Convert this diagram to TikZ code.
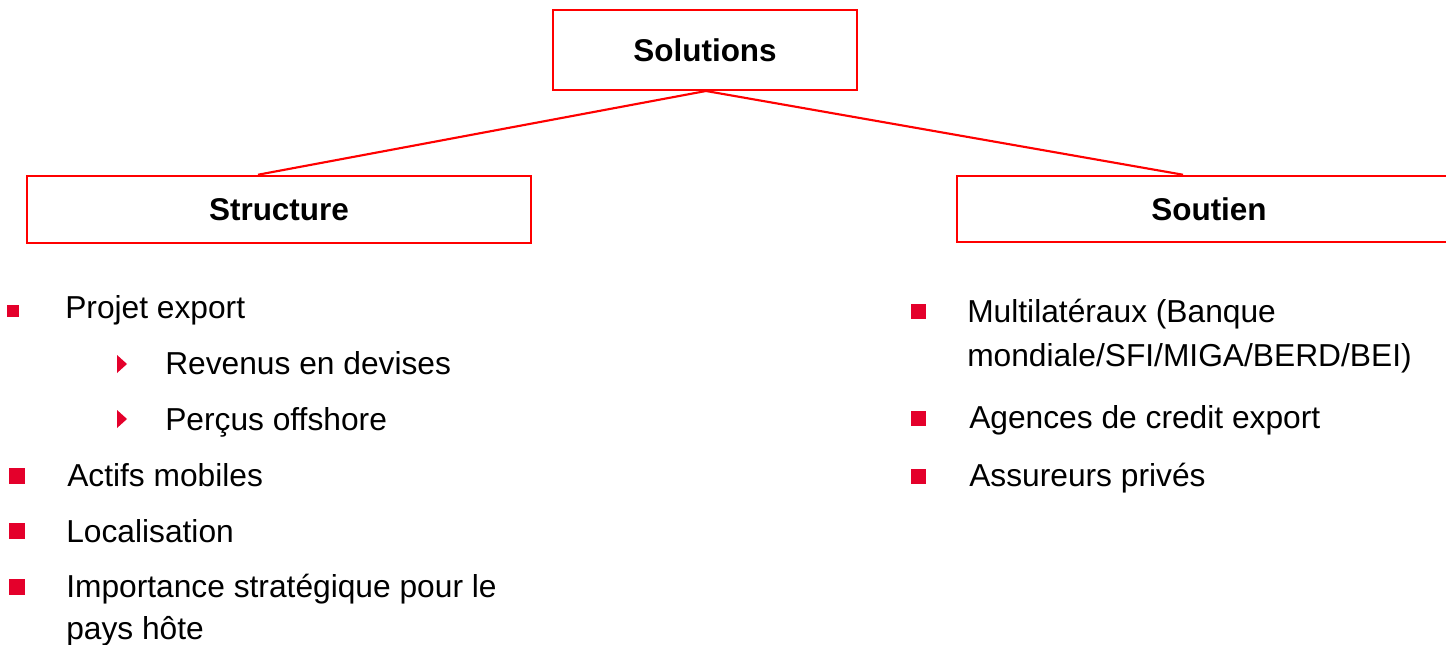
\documentclass[tikz,border=0pt]{standalone}
\usepackage{fontspec}
\setmainfont{Liberation Sans}
\definecolor{boxred}{HTML}{FF0000}
\definecolor{bulred}{HTML}{E4002B}
\tikzset{
  titlebox/.style={draw=boxred, line width=1.9pt, fill=white, inner sep=0pt,
    font=\fontsize{23.6}{28}\selectfont\bfseries, text=black},
  link/.style={draw=boxred, line width=1.6pt},
  itemtext/.style={anchor=base west, inner sep=0pt, font=\fontsize{23.8}{28}\selectfont, text=black},
  sqbullet/.style={fill=bulred, inner sep=0pt, minimum size=#1*0.75pt},
  tribullet/.style={fill=bulred, draw=none}
}
\begin{document}
\begin{tikzpicture}[x=0.75pt,y=-0.75pt]
\clip (0,0) rectangle (1446,645);
\fill[white] (0,0) rectangle (1446,645);

% connectors
\coordinate (apex) at (706,91);
\node[titlebox, minimum width=378pt, minimum height=50.25pt] (str) at (279,209.5) {Structure};
\node[titlebox, minimum width=378pt, minimum height=49.5pt] (sou) at (1209,209) {Soutien};
\draw[link] (apex) -- ([xshift=-15.75pt]str.north);
\draw[link] (apex) -- ([xshift=-19.5pt]sou.north);

% title box
\node[titlebox, minimum width=228pt, minimum height=60pt] (sol) at (705,50) {Solutions};

% left list
\node[sqbullet=12] (b1) at (13,311.5) {};
\node[itemtext] (t1) at (65,319) {Projet export};
\fill[tribullet] (117,355) -- (127,364) -- (117,373) -- cycle;
\node[itemtext] (t1a) at (165,374) {Revenus en devises};
\fill[tribullet] (117,410) -- (127,419) -- (117,428) -- cycle;
\node[itemtext] (t1b) at (165,430) {Perçus offshore};
\node[sqbullet=16] (b2) at (16.5,475.5) {};
\node[itemtext] (t2) at (67,486) {Actifs mobiles};
\node[sqbullet=16] (b3) at (16.5,531) {};
\node[itemtext] (t3) at (66,542) {Localisation};
\node[sqbullet=16] (b4) at (16.5,587) {};
\node[itemtext] (t4) at (66,597) {Importance stratégique pour le};
\node[itemtext] (t4b) at (66,639) {pays hôte};

% right list
\node[sqbullet=15] (r1) at (918.5,311.5) {};
\node[itemtext] (s1) at (967,323) {Multilatéraux (Banque};
\node[itemtext] (s1b) at (967,367) {mondiale/SFI/MIGA/BERD/BEI)};
\node[sqbullet=15] (r2) at (918.5,418.5) {};
\node[itemtext] (s2) at (969,428) {Agences de credit export};
\node[sqbullet=15] (r3) at (918.5,476.5) {};
\node[itemtext] (s3) at (969,486) {Assureurs privés};
\end{tikzpicture}
\end{document}
